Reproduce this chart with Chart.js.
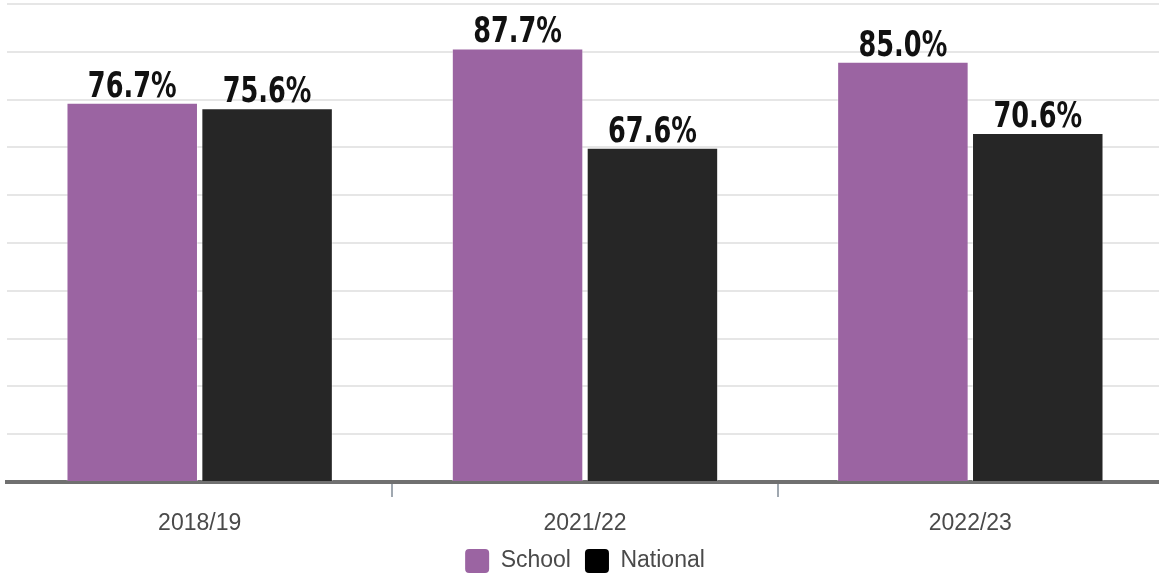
<!DOCTYPE html>
<html lang="en">
<head>
<meta charset="UTF-8">
<title>School vs National</title>
<script src="https://cdn.jsdelivr.net/npm/chart.js"></script>
<style>
  body { margin: 0; background: #fff; overflow: hidden; }
  .wrap { width: 1159px; height: 576px; overflow: hidden; }
  canvas { display: block; }
</style>
</head>
<body>
<div class="wrap"><canvas id="chart" width="1170" height="583"></canvas></div>
<script>
const years = ["2018/19", "2021/22", "2022/23"];
const schoolValues = [76.7, 87.7, 85.0];
const nationalValues = [75.6, 67.6, 70.6];
const seriesNames = ["School", "National"];
const barColors = ["#9b64a2", "#262626"];
const legendColors = ["#9b64a2", "#000000"];

// value labels above each bar (condensed bold, squeezed a bit sideways)
const valueLabels = {
    id: "valueLabels",
    afterDatasetsDraw(chart) {
        const ctx = chart.ctx;
        chart.data.datasets.forEach((ds, i) => {
            chart.getDatasetMeta(i).data.forEach((bar, j) => {
                ctx.save();
                ctx.font = "bold 36px 'Liberation Sans Narrow', 'DejaVu Sans Condensed', sans-serif";
                ctx.fillStyle = "#111";
                ctx.textAlign = "center";
                ctx.textBaseline = "alphabetic";
                ctx.translate(bar.x, bar.y - 6);
                ctx.scale(0.79, 1);
                ctx.fillText(ds.data[j].toFixed(1) + "%", 0, 0);
                ctx.restore();
            });
        });
    }
};

const ctx = document.getElementById("chart").getContext("2d");
new Chart(ctx, {
    type: "bar",
    data: {
        labels: years,
        datasets: [
            {
                label: seriesNames[0],
                data: schoolValues,
                backgroundColor: barColors[0],
                borderColor: "rgba(255,255,255,0.4)",
                borderWidth: 1,
                categoryPercentage: 0.7,
                barPercentage: 0.975
            },
            {
                label: seriesNames[1],
                data: nationalValues,
                backgroundColor: barColors[1],
                borderColor: "rgba(255,255,255,0.4)",
                borderWidth: 1,
                categoryPercentage: 0.7,
                barPercentage: 0.975
            }
        ]
    },
    options: {
        responsive: false,
        animation: false,
        layout: { padding: { top: 4, left: 7, right: 7, bottom: 0 } },
        scales: {
            x: {
                z: 1,
                // chart.js reserves padding twice under the labels, trim it back
                afterFit: (scale) => { scale.height = 53; },
                grid: {
                    drawOnChartArea: false,
                    drawTicks: true,
                    tickLength: 15,
                    lineWidth: 2,
                    color: (c) => (c.index === 0 || c.index === years.length) ? "rgba(0,0,0,0)" : "#a0a8b0"
                },
                border: { display: true, color: "#707070", width: 4 },
                ticks: {
                    autoSkip: false,
                    maxRotation: 0,
                    padding: 13,
                    color: "#4a4a4a",
                    font: { family: "'Liberation Sans', Arial, sans-serif", size: 23, lineHeight: 1.2 }
                }
            },
            y: {
                min: 0,
                max: 96.7,
                ticks: { display: false, count: 11 },
                border: { display: false },
                grid: { drawTicks: false, color: "#e6e6e6", lineWidth: 2 }
            }
        },
        plugins: {
            tooltip: { enabled: false },
            legend: {
                position: "bottom",
                labels: {
                    boxWidth: 24,
                    boxHeight: 24,
                    padding: 14,
                    useBorderRadius: true,
                    borderRadius: 4,
                    color: "#4a4a4a",
                    font: { family: "'Liberation Sans', Arial, sans-serif", size: 23 },
                    generateLabels(chart) {
                        const items = Chart.defaults.plugins.legend.labels.generateLabels(chart);
                        items.forEach((it, i) => {
                            it.fillStyle = legendColors[i];
                            it.strokeStyle = legendColors[i];
                            it.lineWidth = 0;
                        });
                        return items;
                    }
                }
            }
        }
    },
    plugins: [valueLabels]
});
</script>
</body>
</html>
